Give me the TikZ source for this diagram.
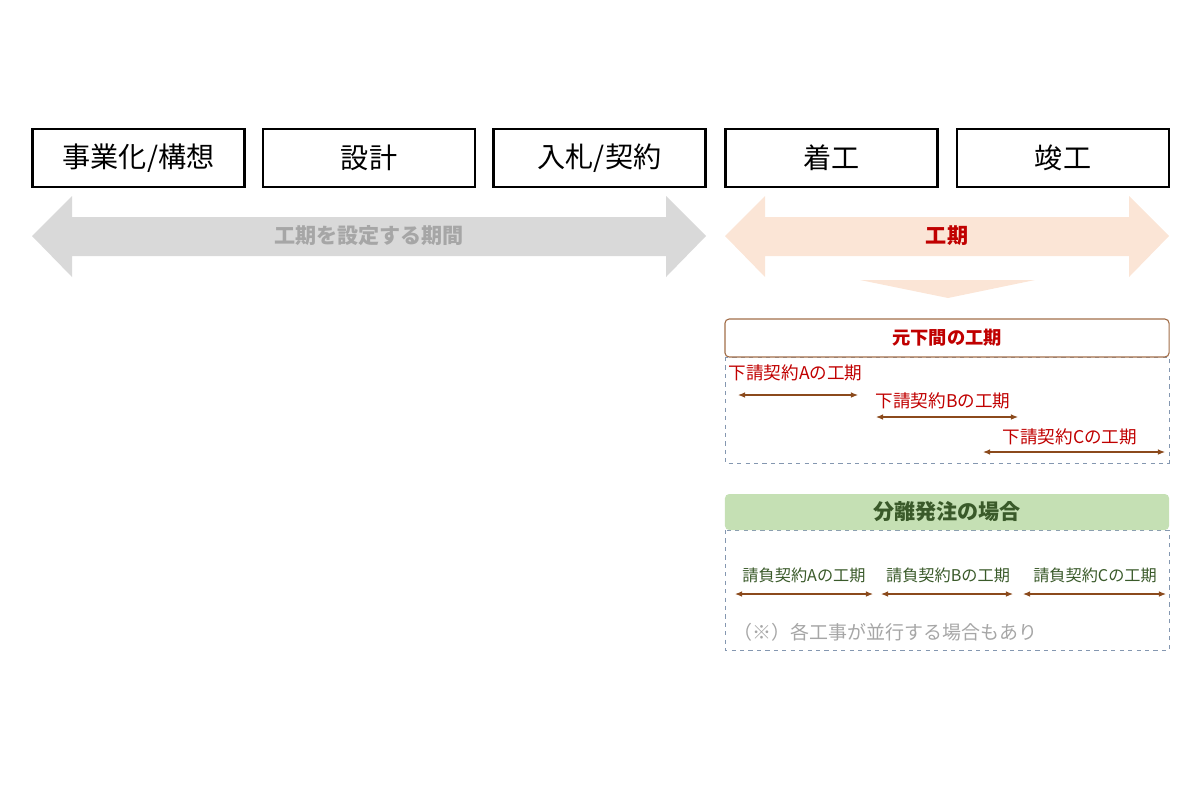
\documentclass[tikz,border=0pt]{standalone}
\usepackage{fontspec}
\setmainfont{Noto Sans CJK JP}
\usetikzlibrary{positioning,arrows.meta}
\definecolor{peach}{HTML}{FBE5D6}
\definecolor{lgray}{HTML}{D9D9D9}
\definecolor{tgray}{HTML}{A6A6A6}
\definecolor{dred}{HTML}{C00000}
\definecolor{brn}{HTML}{8B4A1C}
\definecolor{lgreen}{HTML}{C5E0B4}
\definecolor{dgreen}{HTML}{3A5A2A}
\definecolor{dash}{HTML}{8497B0}
% double arrow from x=#1 to x=#2
\newcommand{\periodarrow}[3]{%
  \fill[#3] (#1,236) -- (#1+40,196) -- (#1+40,217) -- (#2-40,217) -- (#2-40,196)
    -- (#2,236) -- (#2-40,277) -- (#2-40,256) -- (#1+40,256) -- (#1+40,277) -- cycle;}
\begin{document}
\begin{tikzpicture}
        [
        x=0.025cm, y=-0.025cm,
        phase/.style = {draw, line width=1.8pt, minimum width=5.3cm, minimum height=1.45cm, font=\fontsize{20}{22}\selectfont},
        span/.style = {draw=brn, line width=0.8pt, {Latex[length=5pt,width=4pt]}-{Latex[length=5pt,width=4pt]}},
        sub/.style = {text=dred, font=\fontsize{12.5}{14}\selectfont, inner sep=1pt},
        lot/.style = {text=dgreen, font=\fontsize{11.5}{13}\selectfont, inner sep=1pt},
        frame/.style = {draw=dash, dashed, line width=0.6pt}
        ]
    \useasboundingbox (0,0) rectangle (1200,798);
    % phases
    \node[phase] (p1) at (138.5,158) {事業化/構想};
    \node[phase] (p2) at (369,158) {設計};
    \node[phase] (p3) at (599.5,158) {入札/契約};
    \node[phase] (p4) at (831.5,158) {着工};
    \node[phase] (p5) at (1063,158) {竣工};

    % periods
    \periodarrow{32}{706}{lgray}
    \node[text=tgray, font=\bfseries\fontsize{15}{17}\selectfont] (setting) at (369,236) {工期を設定する期間};
    \periodarrow{725}{1169}{peach}
    \node[text=dred, font=\bfseries\fontsize{15}{17}\selectfont] (term) at (947,236) {工期};
    \fill[peach] (860,280) -- (1035,280) -- (948,298) -- cycle;

    % main contract
    \draw[frame] (725,357) rectangle (1169,463);
    \node[draw=brn!80, fill=white, rounded corners=3pt, line width=0.8pt, minimum width=11.1cm,
          minimum height=0.95cm, text=dred, font=\bfseries\fontsize{13}{15}\selectfont] (main) at (947,338) {元下間の工期};
    \node[sub, anchor=west] (sa) at (727,373) {下請契約Aの工期};
    \node[sub, anchor=west] (sb) at (874,401) {下請契約Bの工期};
    \node[sub, anchor=west] (sc) at (1001,437) {下請契約Cの工期};
    \coordinate (a1) at (738,395); \coordinate (a2) at (858,395);
    \coordinate (b1) at (876,417); \coordinate (b2) at (1018,417);
    \coordinate (c1) at (983,452); \coordinate (c2) at (1165,452);
    \draw[span] (a1) -- (a2);
    \draw[span] (b1) -- (b2);
    \draw[span] (c1) -- (c2);

    % separate orders
    \draw[frame] (725,530) rectangle (1169,650);
    \node[fill=lgreen, rounded corners=3pt, minimum width=11.1cm, minimum height=0.9cm,
          text=dgreen, font=\bfseries\fontsize{15}{17}\selectfont] (sep) at (947,512) {分離発注の場合};
    \node[lot] (la) at (804,575) {請負契約Aの工期};
    \node[lot] (lb) at (948,575) {請負契約Bの工期};
    \node[lot] (lc) at (1095,575) {請負契約Cの工期};
    \coordinate (d1) at (735,594); \coordinate (d2) at (873,594);
    \coordinate (e1) at (881,594); \coordinate (e2) at (1013,594);
    \coordinate (f1) at (1023,594); \coordinate (f2) at (1166,594);
    \draw[span] (d1) -- (d2);
    \draw[span] (e1) -- (e2);
    \draw[span] (f1) -- (f2);
    \node[anchor=west, text=tgray, font=\fontsize{13.5}{15}\selectfont] (note) at (729,632) {（※）各工事が並行する場合もあり};
\end{tikzpicture}
\end{document}
